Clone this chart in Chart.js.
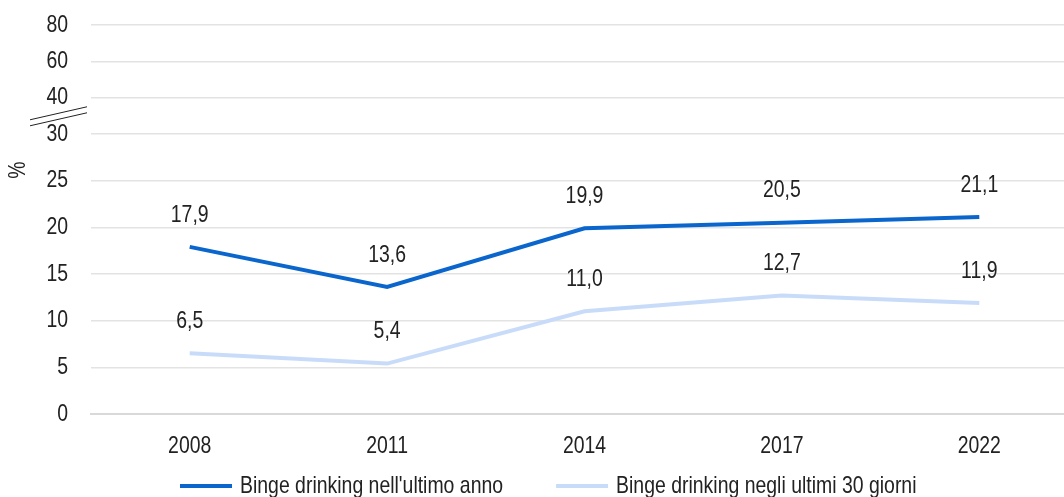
<!DOCTYPE html>
<html lang="it">
<head>
<meta charset="UTF-8">
<title>Binge drinking</title>
<script src="https://cdn.jsdelivr.net/npm/chart.js"></script>
<style>
  html, body { margin: 0; padding: 0; background: #fff; overflow: hidden; }
  #wrap { width: 1080px; height: 497px; }
</style>
</head>
<body>
<div id="wrap"><canvas id="chart" width="1080" height="497"></canvas></div>
<script>
const years = ['2008', '2011', '2014', '2017', '2022'];
const ultimoAnno = [17.9, 13.6, 19.9, 20.5, 21.1];
const ultimi30 = [6.5, 5.4, 11.0, 12.7, 11.9];
const seriesNames = ["Binge drinking nell'ultimo anno", 'Binge drinking negli ultimi 30 giorni'];
const yLowTicks = [0, 5, 10, 15, 20, 25, 30];
const yHighLabels = ['40', '60', '80'];

// above 30 the axis is broken: each upper label gets a shorter step
const breakStep = 3.89;
const yTicks = yLowTicks.concat(yHighLabels.map((_, i) => 30 + breakStep * (i + 1)));
const yLabels = yLowTicks.map(String).concat(yHighLabels);

const FONT = "24px 'Liberation Sans', Arial, sans-serif";
const NARROW = 0.81;   // the original uses a condensed face
const TEXT = '#222';

// draw condensed text centred/aligned at x
function narrowText(ctx, str, x, y, align) {
  ctx.save();
  ctx.font = FONT;
  ctx.fillStyle = TEXT;
  ctx.textBaseline = 'middle';
  ctx.textAlign = align || 'center';
  ctx.translate(x, y);
  ctx.scale(NARROW, 1);
  ctx.fillText(str, 0, 0);
  ctx.restore();
}

const extras = {
  id: 'extras',
  afterDraw(chart) {
    const ctx = chart.ctx;
    const xs = chart.scales.x, ys = chart.scales.y;

    // y tick labels
    yTicks.forEach((v, i) => narrowText(ctx, yLabels[i], 68, ys.getPixelForValue(v), 'right'));
    // x tick labels
    years.forEach((yr, i) => narrowText(ctx, yr, xs.getPixelForValue(i), 446));

    // value labels above points
    chart.data.datasets.forEach((ds, i) => {
      chart.getDatasetMeta(i).data.forEach((pt, j) => {
        narrowText(ctx, ds.data[j].toFixed(1).replace('.', ','), pt.x, pt.y - 32);
      });
    });

    // break marks between 30 and 40
    const yb = (ys.getPixelForValue(30) + ys.getPixelForValue(30 + breakStep)) / 2;
    ctx.save();
    ctx.strokeStyle = TEXT;
    ctx.lineWidth = 1;
    ctx.beginPath();
    ctx.moveTo(30, yb + 4); ctx.lineTo(87, yb - 9);
    ctx.moveTo(30, yb + 10); ctx.lineTo(87, yb - 3);
    ctx.stroke();
    ctx.restore();

    // axis title
    ctx.save();
    ctx.translate(18, 170);
    ctx.rotate(-Math.PI / 2);
    narrowText(ctx, '%', 0, 0);
    ctx.restore();

    // legend
    let lx = 180;
    const ly = 486;
    chart.data.datasets.forEach(ds => {
      ctx.save();
      ctx.strokeStyle = ds.borderColor;
      ctx.lineWidth = 4;
      ctx.beginPath();
      ctx.moveTo(lx, ly); ctx.lineTo(lx + 52, ly);
      ctx.stroke();
      ctx.restore();
      narrowText(ctx, ds.label, lx + 60, ly, 'left');
      ctx.save();
      ctx.font = FONT;
      lx += 60 + ctx.measureText(ds.label).width * NARROW + 53;
      ctx.restore();
    });
  }
};

new Chart(document.getElementById('chart'), {
  type: 'line',
  data: {
    labels: years,
    datasets: [
      { label: seriesNames[0], data: ultimoAnno, borderColor: '#0a66cc', backgroundColor: '#0a66cc', borderWidth: 4, pointRadius: 0, tension: 0 },
      { label: seriesNames[1], data: ultimi30, borderColor: '#c8dcfa', backgroundColor: '#c8dcfa', borderWidth: 4, pointRadius: 0, tension: 0 }
    ]
  },
  options: {
    responsive: false,
    animation: false,
    layout: { padding: { top: 25, left: 0, right: 2, bottom: 0 } },
    plugins: {
      legend: { display: false },
      tooltip: { enabled: false }
    },
    scales: {
      x: {
        offset: true,
        grid: { display: false },
        border: { color: '#d9d9d9', width: 2 },
        ticks: { display: false },
        afterFit(axis) { axis.height = 83; }
      },
      y: {
        min: 0,
        max: 30 + breakStep * 3,
        afterBuildTicks(axis) { axis.ticks = yTicks.map(v => ({ value: v })); },
        afterFit(axis) { axis.width = 91; },
        grid: { color: '#e3e3e3', lineWidth: 1.5, drawTicks: false },
        border: { display: false },
        ticks: { display: false }
      }
    }
  },
  plugins: [extras]
});
</script>
</body>
</html>
